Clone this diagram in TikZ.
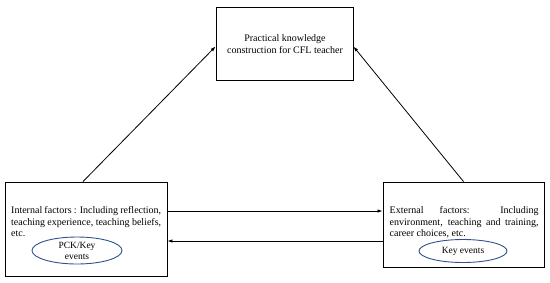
\documentclass[tikz,border=0pt]{standalone}
\usepackage{fontspec}
\setmainfont{Liberation Serif}
\usetikzlibrary{arrows.meta,shapes.geometric,calc}
\definecolor{ovalblue}{RGB}{47,82,143}
\begin{document}
\begin{tikzpicture}[x=1pt,y=-1pt,
  box/.style={draw,line width=0.9pt,inner sep=0pt},
  conn/.style={line width=0.8pt,-{Latex[length=5pt,width=3.5pt]}},
  oval/.style={draw=ovalblue,line width=0.9pt,ellipse,inner sep=0pt},
  txt/.style={font=\fontsize{10}{11.5}\selectfont,inner sep=0pt}]
\useasboundingbox (0,0) rectangle (550,282);
% boxes
\node[box,minimum width=137pt,minimum height=73pt] (top) at (284.5,43.5) {};
\node[box,minimum width=162pt,minimum height=94pt] (left) at (86,229) {};
\node[box,minimum width=161pt,minimum height=85pt] (right) at (463.5,224.5) {};
% texts
\node[txt,align=center] (toptxt) at (285,44) {Practical knowledge\\construction for CFL teacher};
\node[txt,anchor=north west,text width=150pt,align=justify] (lefttxt) at (11,206.5)
  {Internal factors : Including reflection,\linebreak teaching experience, teaching beliefs,\linebreak etc.};
\node[txt,anchor=north west,text width=149pt,align=justify] (righttxt) at (389.5,206.5)
  {External factors: Including\linebreak environment, teaching and training,\linebreak career choices, etc.};
% ellipses
\node[oval,minimum width=90pt,minimum height=27pt] (lov) at (77,250.5) {};
\node[txt,align=center,font=\fontsize{9.5}{10.5}\selectfont] (lovtxt) at (77,251) {PCK/Key\\events};
\node[oval,minimum width=88pt,minimum height=23pt] (rov) at (463,251) {};
\node[txt,font=\fontsize{9.5}{10.5}\selectfont] (rovtxt) at (463,251) {Key events};
% connectors
\coordinate (lt) at ($(left.north)+(-3,0)$);
\coordinate (tl) at ($(top.west)+(0,3)$);
\coordinate (tr) at ($(top.east)+(0,3)$);
\draw[conn] (lt) -- (tl);
\draw[conn] (right.north) -- (tr);
\coordinate (a1) at (left.east |- 0,211);
\coordinate (b1) at (right.west |- 0,211);
\coordinate (a2) at (left.east |- 0,241);
\coordinate (b2) at (right.west |- 0,241);
\draw[conn] (a1) -- (b1);
\draw[conn] (b2) -- (a2);
\end{tikzpicture}
\end{document}
